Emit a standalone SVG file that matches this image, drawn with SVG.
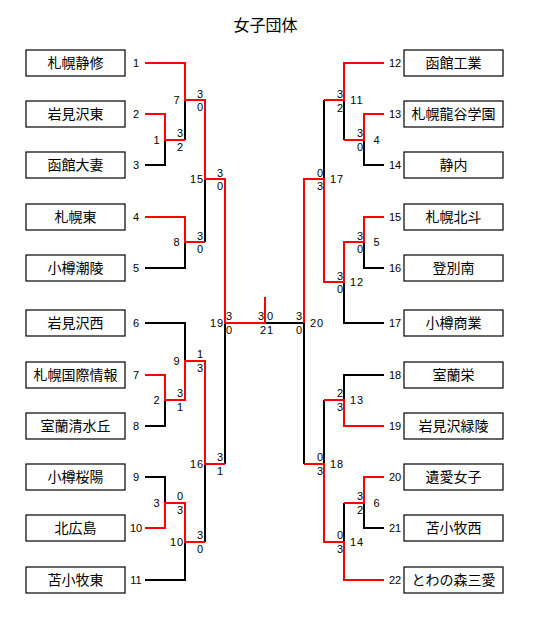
<svg xmlns="http://www.w3.org/2000/svg" width="533" height="622" viewBox="0 0 533 622">
<style>
.bx{fill:#fff;stroke:#000;stroke-width:1.2}
.nm{font-family:"Noto Sans CJK JP","Noto Sans CJK SC",sans-serif;font-size:14px;text-anchor:middle;fill:#000}
.n{font-family:"Liberation Sans",Arial,sans-serif;font-size:11px;text-anchor:middle;fill:#000}
.m{font-family:"Liberation Sans",Arial,sans-serif;font-size:11px;text-anchor:middle;fill:#000;letter-spacing:1px}
.k{fill:none;stroke:#000;stroke-width:2}
.r{fill:none;stroke:#f00;stroke-width:2}
</style>
<rect width="533" height="622" fill="#fff"/>
<text x="265.5" y="31" style="font-family:'Noto Sans CJK JP',sans-serif;font-size:16px;text-anchor:middle">女子団体</text>

<g id="connectors">
<path class="k" d="M145 165H165V140M185 140V100M145 268H185V242M205 242V179M145 323H185V361M145 426H165V400M145 477H165V503M145 580H185V542M205 542V464M225 464V323"/>
<path class="k" d="M384 165H364V140M344 140V100M324 100V179M384 268H364V242M384 323H344V282M384 375H344V400M324 400V464M384 528H364V503M344 503V542M304 464V323M304 323H265"/>
<path class="r" d="M145 63H185V100H205V179H225V323H265V297"/>
<path class="r" d="M145 114H165V140H185"/>
<path class="r" d="M145 217H185V242H205"/>
<path class="r" d="M145 375H165V400H185V361H205V464H225"/>
<path class="r" d="M145 528H165V503H185V542H205"/>
<path class="r" d="M384 63H344V100H324"/>
<path class="r" d="M384 114H364V140H344"/>
<path class="r" d="M384 217H364V242H344V282H324V179H304V323"/>
<path class="r" d="M384 426H344V400H324"/>
<path class="r" d="M384 477H364V503H344"/>
<path class="r" d="M384 580H344V542H324V464H304"/>
</g>

<g id="t1"><rect class="bx" x="26" y="50" width="99" height="26"/><text class="nm" x="75.5" y="68">札幌静修</text><text class="n" x="136" y="67">1</text></g>
<g id="t2"><rect class="bx" x="26" y="101" width="99" height="26"/><text class="nm" x="75.5" y="119">岩見沢東</text><text class="n" x="136" y="118">2</text></g>
<g id="t3"><rect class="bx" x="26" y="152" width="99" height="26"/><text class="nm" x="75.5" y="170">函館大妻</text><text class="n" x="136" y="169">3</text></g>
<g id="t4"><rect class="bx" x="26" y="204" width="99" height="26"/><text class="nm" x="75.5" y="222">札幌東</text><text class="n" x="136" y="221">4</text></g>
<g id="t5"><rect class="bx" x="26" y="255" width="99" height="26"/><text class="nm" x="75.5" y="273">小樽潮陵</text><text class="n" x="136" y="272">5</text></g>
<g id="t6"><rect class="bx" x="26" y="310" width="99" height="26"/><text class="nm" x="75.5" y="328">岩見沢西</text><text class="n" x="136" y="327">6</text></g>
<g id="t7"><rect class="bx" x="26" y="362" width="99" height="26"/><text class="nm" x="75.5" y="380">札幌国際情報</text><text class="n" x="136" y="379">7</text></g>
<g id="t8"><rect class="bx" x="26" y="413" width="99" height="26"/><text class="nm" x="75.5" y="431">室蘭清水丘</text><text class="n" x="136" y="430">8</text></g>
<g id="t9"><rect class="bx" x="26" y="464" width="99" height="26"/><text class="nm" x="75.5" y="482">小樽桜陽</text><text class="n" x="136" y="481">9</text></g>
<g id="t10"><rect class="bx" x="26" y="515" width="99" height="26"/><text class="nm" x="75.5" y="533">北広島</text><text class="n" x="136" y="532">10</text></g>
<g id="t11"><rect class="bx" x="26" y="567" width="99" height="26"/><text class="nm" x="75.5" y="585">苫小牧東</text><text class="n" x="136" y="584">11</text></g>

<g id="t12"><rect class="bx" x="404" y="50" width="99" height="26"/><text class="nm" x="453.5" y="68">函館工業</text><text class="n" x="395" y="67">12</text></g>
<g id="t13"><rect class="bx" x="404" y="101" width="99" height="26"/><text class="nm" x="453.5" y="119">札幌龍谷学園</text><text class="n" x="395" y="118">13</text></g>
<g id="t14"><rect class="bx" x="404" y="152" width="99" height="26"/><text class="nm" x="453.5" y="170">静内</text><text class="n" x="395" y="169">14</text></g>
<g id="t15"><rect class="bx" x="404" y="204" width="99" height="26"/><text class="nm" x="453.5" y="222">札幌北斗</text><text class="n" x="395" y="221">15</text></g>
<g id="t16"><rect class="bx" x="404" y="255" width="99" height="26"/><text class="nm" x="453.5" y="273">登別南</text><text class="n" x="395" y="272">16</text></g>
<g id="t17"><rect class="bx" x="404" y="310" width="99" height="26"/><text class="nm" x="453.5" y="328">小樽商業</text><text class="n" x="395" y="327">17</text></g>
<g id="t18"><rect class="bx" x="404" y="362" width="99" height="26"/><text class="nm" x="453.5" y="380">室蘭栄</text><text class="n" x="395" y="379">18</text></g>
<g id="t19"><rect class="bx" x="404" y="413" width="99" height="26"/><text class="nm" x="453.5" y="431">岩見沢緑陵</text><text class="n" x="395" y="430">19</text></g>
<g id="t20"><rect class="bx" x="404" y="464" width="99" height="26"/><text class="nm" x="453.5" y="482">遺愛女子</text><text class="n" x="395" y="481">20</text></g>
<g id="t21"><rect class="bx" x="404" y="515" width="99" height="26"/><text class="nm" x="453.5" y="533">苫小牧西</text><text class="n" x="395" y="532">21</text></g>
<g id="t22"><rect class="bx" x="404" y="567" width="99" height="26"/><text class="nm" x="453.5" y="585">とわの森三愛</text><text class="n" x="395" y="584">22</text></g>

<g id="matches">
<g id="m1"><text class="m" x="157" y="144">1</text><text class="n" x="180" y="137">3</text><text class="n" x="180" y="151">2</text></g>
<g id="m7"><text class="m" x="177" y="104">7</text><text class="n" x="200" y="98">3</text><text class="n" x="200" y="111">0</text></g>
<g id="m15"><text class="m" x="197" y="183">15</text><text class="n" x="220" y="177">3</text><text class="n" x="220" y="190">0</text></g>
<g id="m8"><text class="m" x="177" y="246">8</text><text class="n" x="200" y="240">3</text><text class="n" x="200" y="253">0</text></g>
<g id="m19"><text class="m" x="217" y="327">19</text><text class="n" x="229" y="320">3</text><text class="n" x="229" y="334">0</text></g>
<g id="m9"><text class="m" x="177" y="365">9</text><text class="n" x="200" y="358">1</text><text class="n" x="200" y="372">3</text></g>
<g id="m2"><text class="m" x="157" y="404">2</text><text class="n" x="180" y="397">3</text><text class="n" x="180" y="411">1</text></g>
<g id="m16"><text class="m" x="197" y="468">16</text><text class="n" x="220" y="461">3</text><text class="n" x="220" y="475">1</text></g>
<g id="m3"><text class="m" x="157" y="507">3</text><text class="n" x="180" y="500">0</text><text class="n" x="180" y="514">3</text></g>
<g id="m10"><text class="m" x="177" y="546">10</text><text class="n" x="200" y="539">3</text><text class="n" x="200" y="553">0</text></g>
<g id="m21"><text class="n" x="261" y="320">3</text><text class="n" x="270" y="320">0</text><text class="m" x="267" y="334">21</text></g>
<g id="m20"><text class="n" x="299" y="320">3</text><text class="n" x="299" y="334">0</text><text class="m" x="317" y="327">20</text></g>
<g id="m11"><text class="n" x="340" y="98">3</text><text class="n" x="340" y="112">2</text><text class="m" x="357" y="104">11</text></g>
<g id="m4"><text class="n" x="360" y="137">3</text><text class="n" x="360" y="151">0</text><text class="m" x="377" y="144">4</text></g>
<g id="m17"><text class="n" x="320" y="177">0</text><text class="n" x="320" y="190">3</text><text class="m" x="337" y="183">17</text></g>
<g id="m5"><text class="n" x="360" y="240">3</text><text class="n" x="360" y="253">0</text><text class="m" x="377" y="246">5</text></g>
<g id="m12"><text class="n" x="340" y="280">3</text><text class="n" x="340" y="293">0</text><text class="m" x="357" y="286">12</text></g>
<g id="m13"><text class="n" x="340" y="397">2</text><text class="n" x="340" y="411">3</text><text class="m" x="357" y="404">13</text></g>
<g id="m18"><text class="n" x="320" y="461">0</text><text class="n" x="320" y="475">3</text><text class="m" x="337" y="468">18</text></g>
<g id="m6"><text class="n" x="360" y="500">3</text><text class="n" x="360" y="514">2</text><text class="m" x="377" y="507">6</text></g>
<g id="m14"><text class="n" x="340" y="539">0</text><text class="n" x="340" y="553">3</text><text class="m" x="357" y="546">14</text></g>
</g>
</svg>
